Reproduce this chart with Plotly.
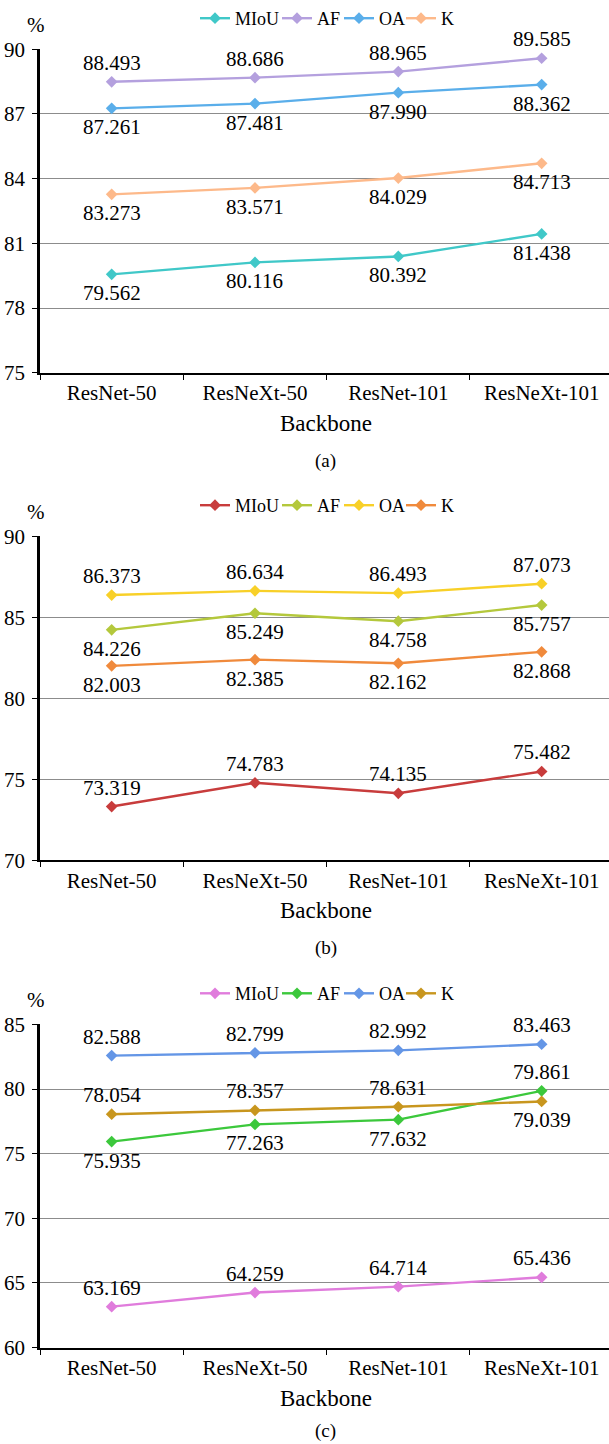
import plotly.graph_objects as go

# ---- data ----
backbones = ["ResNet-50", "ResNeXt-50", "ResNet-101", "ResNeXt-101"]
metrics = ["MIoU", "AF", "OA", "K"]

# panel (a)
a_miou = [79.562, 80.116, 80.392, 81.438]
a_af = [88.493, 88.686, 88.965, 89.585]
a_oa = [87.261, 87.481, 87.990, 88.362]
a_k = [83.273, 83.571, 84.029, 84.713]
a_ticks = [75, 78, 81, 84, 87, 90]

# panel (b)
b_miou = [73.319, 74.783, 74.135, 75.482]
b_af = [84.226, 85.249, 84.758, 85.757]
b_oa = [86.373, 86.634, 86.493, 87.073]
b_k = [82.003, 82.385, 82.162, 82.868]
b_ticks = [70, 75, 80, 85, 90]

# panel (c)
c_miou = [63.169, 64.259, 64.714, 65.436]
c_af = [75.935, 77.263, 77.632, 79.861]
c_oa = [82.588, 82.799, 82.992, 83.463]
c_k = [78.054, 78.357, 78.631, 79.039]
c_ticks = [60, 65, 70, 75, 80, 85]

# ---- styling ----
W, H = 609, 1444
FONT = "Liberation Serif"
X_LEFT = 40  # px of the value axis
LEGEND_LEFT_PX = [195, 277, 339, 401]  # left edge of each legend entry

panels = [
    dict(
        series=[a_miou, a_af, a_oa, a_k],
        colors=["#40C8C8", "#B4A0DE", "#5AAEEA", "#FDB98A"],
        # +1 = label above the point, -1 = below
        place=[[-1, -1, -1, -1], [1, 1, 1, 1], [-1, -1, -1, -1], [-1, -1, -1, -1]],
        ticks=a_ticks, px_top=49.3, px_bot=372.7, caption="(a)",
    ),
    dict(
        series=[b_miou, b_af, b_oa, b_k],
        colors=["#C83C3C", "#B4C83C", "#F8D028", "#F08A3C"],
        place=[[1, 1, 1, 1], [-1, -1, -1, -1], [1, 1, 1, 1], [-1, -1, -1, -1]],
        ticks=b_ticks, px_top=536.3, px_bot=860.3, caption="(b)",
    ),
    dict(
        series=[c_miou, c_af, c_oa, c_k],
        colors=["#E07CDC", "#3CC83C", "#6496E6", "#C8961E"],
        place=[[1, 1, 1, 1], [-1, -1, -1, 1], [1, 1, 1, 1], [1, 1, 1, -1]],
        ticks=c_ticks, px_top=1024.4, px_bot=1347.6, caption="(c)",
    ),
]


def py(px):
    """pixel row -> paper fraction"""
    return 1 - px / H


fig = go.Figure()
annotations = []
layout = {}
leg_count = 0

for i, p in enumerate(panels):
    n = i + 1
    xa = "x" if n == 1 else f"x{n}"
    ya = "y" if n == 1 else f"y{n}"

    for j, (name, vals, col) in enumerate(zip(metrics, p["series"], p["colors"])):
        # each legend entry gets its own legend box so the row can be spaced tightly
        leg_count += 1
        leg = "legend" if leg_count == 1 else f"legend{leg_count}"
        fig.add_trace(go.Scatter(
            x=backbones, y=vals, name=name, xaxis=xa, yaxis=ya, legend=leg,
            mode="lines+markers", showlegend=True,
            line=dict(color=col, width=2.4),
            marker=dict(symbol="diamond", size=9, color=col),
            hoverinfo="x+y+name",
        ))
        layout[leg] = dict(
            x=LEGEND_LEFT_PX[j] / W, xanchor="left",
            y=py(p["px_top"] - 49.3), yanchor="top",
            font=dict(family=FONT, size=18, color="black"),
            itemwidth=30, bgcolor="rgba(0,0,0,0)", borderwidth=0,
        )

    for vals, side in zip(p["series"], p["place"]):
        for cat, v, s in zip(backbones, vals, side):
            annotations.append(dict(
                x=cat, y=v, xref=xa, yref=ya, text=f"{v:.3f}",
                showarrow=False, yshift=19 * s, xanchor="center", yanchor="middle",
                font=dict(family=FONT, size=21, color="black"),
            ))

    dom = [py(p["px_bot"]), py(p["px_top"])]
    layout["xaxis" if n == 1 else f"xaxis{n}"] = dict(
        domain=[X_LEFT / W, 1], anchor=ya, type="category",
        categoryorder="array", categoryarray=backbones,
        range=[-0.5, 3.47], tickson="boundaries", automargin=False,
        ticks="outside", ticklen=5, tickwidth=1, tickcolor="black",
        showline=True, linecolor="black", linewidth=2,
        showgrid=False, fixedrange=True,
        tickfont=dict(family=FONT, size=21, color="black"),
    )
    layout["yaxis" if n == 1 else f"yaxis{n}"] = dict(
        domain=dom, anchor=xa, range=[p["ticks"][0], p["ticks"][-1]],
        tickvals=p["ticks"], ticks="outside", ticklen=5, tickwidth=1,
        tickcolor="black", showline=True, linecolor="black", linewidth=2.5,
        showgrid=True, gridcolor="#8C8C8C", gridwidth=1.2, automargin=False,
        zeroline=False, fixedrange=True, ticklabelstandoff=3,
        tickfont=dict(family=FONT, size=21, color="black"),
    )

    # unit label, axis title and caption
    annotations.append(dict(
        x=36 / W, y=py(p["px_top"] - 24.5), xref="paper", yref="paper",
        text="%", showarrow=False, xanchor="center", yanchor="middle",
        font=dict(family=FONT, size=21, color="black"),
    ))
    annotations.append(dict(
        x=0.535, y=py(p["px_bot"] + 50.5), xref="paper", yref="paper",
        text="Backbone", showarrow=False, xanchor="center", yanchor="middle",
        font=dict(family=FONT, size=23, color="black"),
    ))
    last = n == len(panels)
    annotations.append(dict(
        x=0.535, y=0.0 if last else py(p["px_bot"] + 88),
        xref="paper", yref="paper",
        text=p["caption"], showarrow=False, xanchor="center",
        yanchor="bottom" if last else "middle",
        font=dict(family=FONT, size=19, color="black"),
    ))

fig.update_layout(
    width=W, height=H, margin=dict(l=0, r=0, t=0, b=0, autoexpand=False),
    paper_bgcolor="white", plot_bgcolor="white", showlegend=True,
    annotations=annotations, **layout,
)

fig.write_html("out.html")
